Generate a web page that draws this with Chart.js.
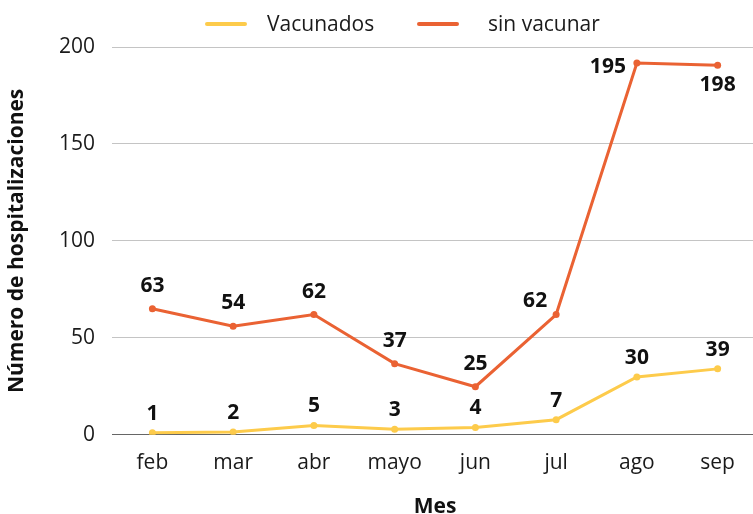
<!DOCTYPE html>
<html><head><meta charset="utf-8">
<script src="https://cdn.jsdelivr.net/npm/chart.js@4"></script>
<style>html,body{margin:0;padding:0;background:#fff;overflow:hidden;width:753px;height:514px}
#wrap{width:762px;height:514px;position:relative}</style>
</head><body><div id="wrap"><canvas id="c"></canvas></div>
<script>
const months = ['feb','mar','abr','mayo','jun','jul','ago','sep'];
const vacunados = [1, 1.5, 4.8, 2.8, 3.8, 7.8, 29.8, 34];
const sinVacunar = [65, 56, 62, 36.7, 24.8, 62, 191.7, 190.6];
const vacunadosLabels = ['1','2','5','3','4','7','30','39'];
const sinVacunarLabels = ['63','54','62','37','25','62','195','198'];
const yMin = 0, yMax = 200, yStep = 50;

const FONT = "'Open Sans', 'Noto Sans', sans-serif";
const YELLOW = '#FDCB4B';
const ORANGE = '#EA6233';

const legendPlugin = {
  id: 'customLegend',
  afterDraw(chart) {
    const ctx = chart.ctx;
    ctx.save();
    ctx.font = '21px ' + FONT;
    ctx.textBaseline = 'middle';
    ctx.textAlign = 'left';
    const y = 24;
    const layout = [{ swatch: 205, text: 267 }, { swatch: 417, text: 488 }];
    chart.data.datasets.forEach((ds, i) => {
      const L = layout[i];
      ctx.strokeStyle = ds.borderColor;
      ctx.lineWidth = 4;
      ctx.lineCap = 'round';
      ctx.beginPath();
      ctx.moveTo(L.swatch + 2, y); ctx.lineTo(L.swatch + 40, y); ctx.stroke();
      ctx.fillStyle = '#1a1a1a';
      ctx.fillText(ds.label, L.text, y + 1);
    });
    ctx.restore();
  }
};

const labelPlugin = {
  id: 'pointLabels',
  afterDatasetsDraw(chart) {
    const ctx = chart.ctx;
    ctx.save();
    ctx.font = 'bold 21px ' + FONT;
    ctx.fillStyle = '#111';
    ctx.textAlign = 'center';
    ctx.textBaseline = 'middle';
    chart.data.datasets.forEach((ds, i) => {
      const meta = chart.getDatasetMeta(i);
      meta.data.forEach((pt, j) => {
        const anchor = (ds.labelAnchors && ds.labelAnchors[j]) || 'top';
        let dx = 0, dy = -ds.labelOffset;
        if (anchor === 'topleft') { dx = -21; dy = -14; }
        else if (anchor === 'left') { dx = -29; dy = 4; }
        else if (anchor === 'bottom') { dx = 0; dy = 20; }
        ctx.fillText(ds.pointTexts[j], pt.x + dx, pt.y + dy);
      });
    });
    ctx.restore();
  }
};

new Chart(document.getElementById('c'), {
  type: 'line',
  data: {
    labels: months,
    datasets: [
      {
        label: 'Vacunados',
        data: vacunados,
        pointTexts: vacunadosLabels,
        labelOffset: 19,
        borderColor: YELLOW,
        backgroundColor: YELLOW,
        borderWidth: 3,
        pointRadius: 3.5,
        pointBackgroundColor: YELLOW,
        pointBorderWidth: 0,
        tension: 0
      },
      {
        label: 'sin vacunar',
        data: sinVacunar,
        pointTexts: sinVacunarLabels,
        labelOffset: 23,
        labelAnchors: ['top','top','top','top','top','topleft','left','bottom'],
        borderColor: ORANGE,
        backgroundColor: ORANGE,
        borderWidth: 3,
        pointRadius: 3.5,
        pointBackgroundColor: ORANGE,
        pointBorderWidth: 0,
        tension: 0
      }
    ]
  },
  options: {
    responsive: true,
    maintainAspectRatio: false,
    animation: false,
    layout: { padding: { top: 47, right: 3, left: 7, bottom: -4 } },
    plugins: { legend: { display: false }, tooltip: { enabled: false } },
    scales: {
      x: {
        offset: true,
        grid: { display: false },
        border: { display: false },
        ticks: { color: '#1a1a1a', font: { family: FONT, size: 21 }, padding: 8 },
        title: { display: true, text: 'Mes', color: '#111', font: { family: FONT, size: 21, weight: 'bold', lineHeight: 1 }, padding: { top: 13, bottom: 0 } }
      },
      y: {
        min: yMin, max: yMax,
        border: { display: false },
        grid: {
          drawTicks: false,
          color: (c) => c.tick && c.tick.value === 0 ? '#666' : '#c4c4c4',
          lineWidth: 1
        },
        ticks: { stepSize: yStep, color: '#1a1a1a', font: { family: FONT, size: 21 }, padding: 17 },
        title: { display: true, text: 'Número de hospitalizaciones', color: '#111', font: { family: FONT, size: 21, weight: 'bold', lineHeight: 1 }, padding: { top: 0, bottom: 14 } }
      }
    }
  },
  plugins: [legendPlugin, labelPlugin]
});
</script>
</body></html>
